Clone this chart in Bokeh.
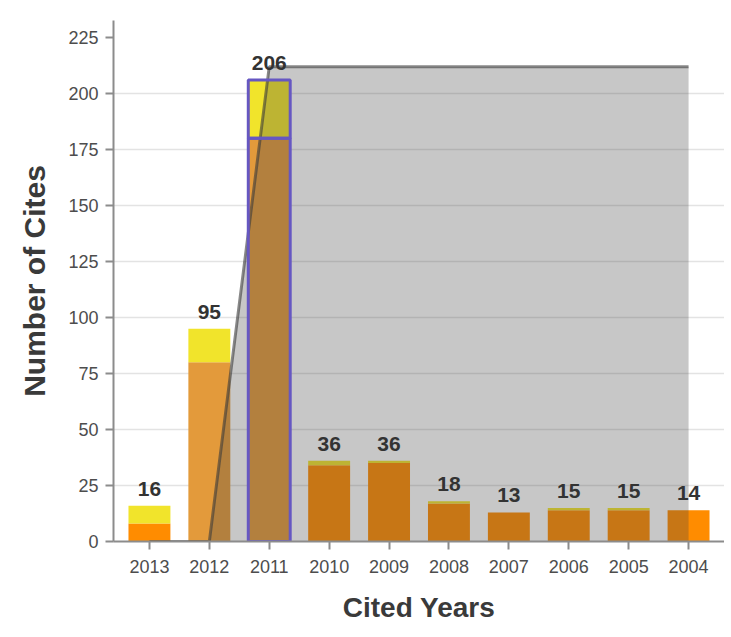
from bokeh.plotting import figure
from bokeh.models import FactorRange, Range1d, FixedTicker, ColumnDataSource
from bokeh.core.properties import value
from bokeh.embed import file_html
from bokeh.resources import INLINE

# ---- data ----
years = ["2013", "2012", "2011", "2010", "2009", "2008", "2007", "2006", "2005", "2004"]
cites_main = [8, 80, 180, 34, 35, 17, 13, 14, 14, 14]
cites_extra = [8, 15, 26, 2, 1, 1, 0, 1, 1, 0]
totals = [16, 95, 206, 36, 36, 18, 13, 15, 15, 14]
window_level = [0, 0, 212, 212, 212, 212, 212, 212, 212, 212]
y_ticks = [0, 25, 50, 75, 100, 125, 150, 175, 200, 225]
faded_years = ["2012", "2011"]
highlight_year = "2011"

# ---- styles ----
ORANGE = "#FF8C00"
ORANGE_FADED = "#E39A3B"
YELLOW = "#F1E42B"
AXIS = "#8C8C8C"
FONT = "Liberation Sans"

stack_top = [m + e for m, e in zip(cites_main, cites_extra)]
c_main = [ORANGE_FADED if y in faded_years else ORANGE for y in years]
c_extra = [YELLOW for _ in years]

src = ColumnDataSource(dict(
    year=years, main=cites_main, stack_top=stack_top, total=totals,
    label=[str(t) for t in totals], window=window_level,
    c_main=c_main, c_extra=c_extra,
))
hi = [i for i, y in enumerate(years) if y == highlight_year]
src_hi = ColumnDataSource(dict(
    year=[years[i] for i in hi],
    main=[cites_main[i] for i in hi],
    stack_top=[stack_top[i] for i in hi],
))

p = figure(
    x_range=FactorRange(factors=years, range_padding=0.1, range_padding_units="absolute"),
    y_range=Range1d(0, 232.6),
    width=724, height=629,
    min_border_left=113, min_border_right=0, min_border_top=20, min_border_bottom=88,
    output_backend="svg", toolbar_location=None,
)
p.outline_line_color = None
p.background_fill_color = "white"

# bars
p.vbar(x="year", bottom=0, top="main", width=0.7, fill_color="c_main",
       line_color=None, source=src)
p.vbar(x="year", bottom="main", top="stack_top", width=0.7, fill_color="c_extra",
       line_color=None, source=src)

# grey window area
p.varea(x="year", y1=0, y2="window", fill_color="#474747", fill_alpha=0.3, source=src)
p.line(x="year", y="window", line_color="#3A3A3A", line_alpha=0.6, line_width=3, source=src)

# highlighted bar outline
p.vbar(x="year", bottom=0, top="main", width=0.7, fill_alpha=0,
       line_color="#6657C2", line_width=3, source=src_hi)
p.vbar(x="year", bottom="main", top="stack_top", width=0.7, fill_alpha=0,
       line_color="#6657C2", line_width=3, source=src_hi)

# value labels
p.text(x="year", y="total", text="label", text_align="center", text_baseline="alphabetic",
       y_offset=-17, text_font=value(FONT), text_font_style="bold", text_font_size="21px",
       text_color="#333333", source=src)

# axes
p.yaxis.ticker = FixedTicker(ticks=y_ticks)
p.ygrid.ticker = FixedTicker(ticks=y_ticks[1:-1])
p.xgrid.grid_line_color = None
p.ygrid.grid_line_color = "#E3E3E3"
p.ygrid.grid_line_width = 1.5

for ax in (p.xaxis[0], p.yaxis[0]):
    ax.axis_line_color = AXIS
    ax.axis_line_width = 2
    ax.major_tick_line_color = AXIS
    ax.major_tick_line_width = 2
    ax.major_tick_out = 8
    ax.major_tick_in = 0
    ax.minor_tick_line_color = None
    ax.major_label_text_font = FONT
    ax.major_label_text_font_size = "18px"
    ax.major_label_text_color = "#4D4D4D"
    ax.axis_label_text_font = FONT
    ax.axis_label_text_font_style = "bold"
    ax.axis_label_text_color = "#3A3A3A"

p.xaxis.axis_label = "Cited Years"
p.yaxis.axis_label = "Number of Cites"
p.xaxis.axis_label_text_font_size = "28px"
p.yaxis.axis_label_text_font_size = "30px"
p.xaxis.major_label_standoff = 10
p.yaxis.major_label_standoff = 7
p.xaxis.axis_label_standoff = 16
p.yaxis.axis_label_standoff = 14

open("out.html", "w").write(file_html(p, INLINE))
